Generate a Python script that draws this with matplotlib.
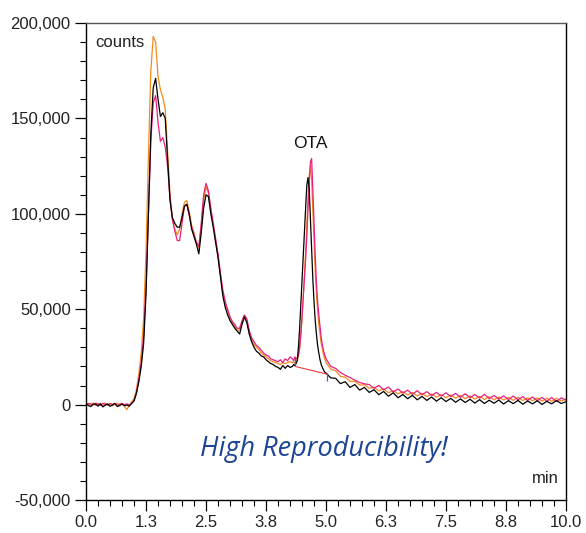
import numpy as np
import matplotlib
matplotlib.use("Agg")
import matplotlib.pyplot as plt
from matplotlib.ticker import MultipleLocator, FuncFormatter

plt.rcParams['font.family'] = ['Liberation Sans', 'DejaVu Sans']

# retention time grid (min): baseline, main peaks, shoulder region, OTA peak, tail
t_base = np.arange(0.0, 0.96, 0.05)
t_main = np.arange(1.0, 2.96, 0.05)
t_mid = np.arange(3.0, 4.26, 0.05)
t_ota = np.arange(4.3, 4.99, 0.025)
t_tail = np.arange(5.0, 10.01, 0.1)
time = np.concatenate([t_base, t_main, t_mid, t_ota, t_tail])

# signal, thousands of counts
black_k = [
    # 0.00 - 0.95
    0.5, -0.5, -1.0, 0.3, 0.2, -0.8, 0.5, -1.2, -0.3, 0.4,
    -0.9, -0.2, 0.6, -1.0, -0.5, 0.3, -0.6, -0.2, -0.8, 0.5,
    # 1.00 - 2.95
    2, 6, 12, 20, 32, 58, 100, 142, 166, 171,
    160, 151, 153, 150, 128, 107, 98, 95, 93, 93,
    98, 104, 105, 100, 92, 88, 84, 79, 90, 103,
    110, 109, 100, 93, 85, 77, 67, 57, 51, 47,
    # 3.00 - 4.25
    44, 42, 40, 38.5, 37, 42, 46, 43, 37, 33,
    30, 28, 27, 25.5, 25, 23.5, 22.5, 21.5, 21, 20,
    19.5, 18.5, 20.5, 19, 20.5, 19.5,
    # 4.300 - 4.975
    20, 21, 20.5, 21.5, 23, 30, 40, 52, 65, 78,
    91, 103, 115, 119, 113, 97, 80, 66, 54, 44,
    37, 31, 27, 23.5, 21, 19.5, 18, 17,
    # 5.0 - 10.0
    16.5, 14.0, 13.8, 11.0, 12.0, 9.0, 10.5, 7.6, 9.0, 6.4,
    7.8, 5.2, 6.9, 4.4, 6.2, 3.6, 5.3, 3.1, 4.9, 2.5,
    4.3, 2.2, 4.0, 1.8, 3.6, 1.6, 3.3, 1.2, 3.0, 1.1,
    2.8, 0.8, 2.6, 0.6, 2.3, 0.7, 2.4, 0.3, 2.1, 0.5,
    2.2, 0.2, 1.9, 0.4, 2.0, 0.1, 1.7, 0.4, 2.1, 0.6, 1.5,
]
orange_k = [
    0.3, 0.2, -0.3, 0.8, -0.4, 0.6, 0.1, -0.5, 0.9, -0.2,
    0.4, -0.6, 0.2, 0.7, -0.3, 0.5, -0.8, -2.6, -0.5, 1.5,
    3, 8, 16, 27, 45, 80, 130, 175, 193, 190,
    172, 165, 161, 155, 133, 110, 97, 92, 89, 92,
    100, 106, 107, 101, 94, 90, 85, 82, 93, 107,
    114, 111, 102, 94, 86, 78, 68, 59, 53, 49,
    45, 43, 41, 39, 39, 43, 46, 44, 38, 34,
    31.5, 30, 29, 27, 26, 25, 24, 23, 22.5, 22,
    21.5, 21, 22, 21.5, 22, 22.5,
    22, 22.5, 21.5, 22.5, 23, 25, 29, 36, 45, 56,
    68, 80, 94, 108, 120, 125, 118, 102, 85, 70,
    58, 49, 42, 37, 32, 29, 26, 24,
    22, 18.6, 17.8, 14.8, 14.4, 12.2, 12.2, 10.2, 10.4, 8.6,
    9.0, 7.2, 8.2, 6.2, 7.4, 5.6, 6.8, 5.1, 6.3, 4.6,
    5.8, 4.2, 5.6, 3.9, 5.2, 3.6, 5.0, 3.4, 4.8, 3.1,
    4.5, 2.9, 4.4, 2.7, 4.2, 2.5, 4.0, 2.4, 3.8, 2.2,
    3.9, 2.1, 3.6, 2.0, 3.5, 1.8, 3.4, 1.7, 3.3, 1.9, 2.8,
]
pink_k = [
    0.0, 0.6, 0.4, -0.2, 0.8, 0.3, -0.4, 0.7, 0.2, -0.3,
    0.6, 0.1, 0.5, -0.4, 0.3, 0.6, 0.0, 0.4, -0.2, 0.8,
    2, 6, 13, 22, 36, 62, 100, 138, 158, 162,
    148, 138, 140, 135, 125, 108, 97, 91, 86, 86,
    95, 104, 105, 99, 93, 89, 85, 83, 95, 110,
    116, 112, 103, 95, 87, 79, 69, 60, 54, 50,
    46, 43.5, 42, 40, 40, 44, 47, 45, 39, 35,
    33, 31, 30, 28.5, 27, 26, 25.5, 24, 23.5, 23,
    22.5, 23.5, 22, 24, 23, 25,
    24, 23, 25, 24, 24.5, 26, 30, 37, 46, 56,
    66, 76, 88, 103, 116, 127, 129, 113, 95, 78,
    64, 54, 47, 41, 35, 31, 28, 26,
    24, 20.0, 19.0, 16.8, 15.4, 14.2, 12.8, 11.6, 10.9, 10.5,
    8.6, 10.0, 7.8, 9.2, 6.6, 8.2, 6.0, 7.6, 5.4, 7.3,
    5.2, 6.8, 4.8, 6.4, 4.5, 6.2, 4.2, 5.9, 3.8, 5.7,
    3.6, 5.3, 3.4, 5.4, 3.1, 4.8, 2.9, 4.6, 2.6, 4.5,
    2.5, 4.2, 2.2, 4.0, 2.1, 3.8, 1.8, 3.7, 1.6, 3.5, 2.4,
]

# OTA integration baseline and peak start/end marks
ota_base_t = [4.36, 5.015]
ota_base_k = [20, 16]
ota_marks_t = [4.36, 5.015]
ota_marks_lo = [20, 12.2]
ota_marks_hi = [25, 16.6]

x_ticks = [0, 1.25, 2.5, 3.75, 5.0, 6.25, 7.5, 8.75, 10.0]
x_labels = ["0.0", "1.3", "2.5", "3.8", "5.0", "6.3", "7.5", "8.8", "10.0"]

fig = plt.figure(figsize=(5.86, 5.33), dpi=100)
ax = fig.add_axes([0.1468, 0.0619, 0.8191, 0.8949])

ax.plot(time, np.array(orange_k) * 1000, color="#f28a1e", lw=0.9)
ax.plot(time, np.array(pink_k) * 1000, color="#e8207c", lw=0.9)
ax.plot(time, np.array(black_k) * 1000, color="black", lw=0.9)

ax.plot(ota_base_t, np.array(ota_base_k) * 1000, color="#f03c3c", lw=0.8)
ax.vlines(ota_marks_t, np.array(ota_marks_lo) * 1000, np.array(ota_marks_hi) * 1000,
          color="#3a5fd0", lw=0.9)

ax.set_xlim(0, 10)
ax.set_ylim(-50000, 200000)
ax.set_xticks(x_ticks)
ax.set_xticklabels(x_labels)
ax.xaxis.set_minor_locator(MultipleLocator(0.25))
ax.yaxis.set_major_locator(MultipleLocator(50000))
ax.yaxis.set_minor_locator(MultipleLocator(10000))
ax.yaxis.set_major_formatter(FuncFormatter(lambda v, p: f"{v:,.0f}"))

ax.tick_params(which="major", length=8, width=0.9, labelsize=12, labelcolor="#222222", pad=3)
ax.tick_params(which="minor", length=4, width=0.8)
for s in ax.spines.values():
    s.set_linewidth(1.0)
ax.spines["top"].set_color("#555555")

ax.text(0.02, 0.975, "counts", transform=ax.transAxes, ha="left", va="top",
        fontsize=12, color="#222222")
ax.text(0.985, 0.03, "min", transform=ax.transAxes, ha="right", va="bottom",
        fontsize=12, color="#222222")
ax.text(4.67, 137000, "OTA", ha="center", va="center", fontsize=12.5, color="#111111")
ax.text(4.96, -23500, "High Reproducibility!", ha="center", va="center",
        fontsize=19.5, style="italic", weight="normal", color="#1c4695",
        family=["Open Sans", "DejaVu Sans"])

fig.savefig("out.png", dpi=100)
